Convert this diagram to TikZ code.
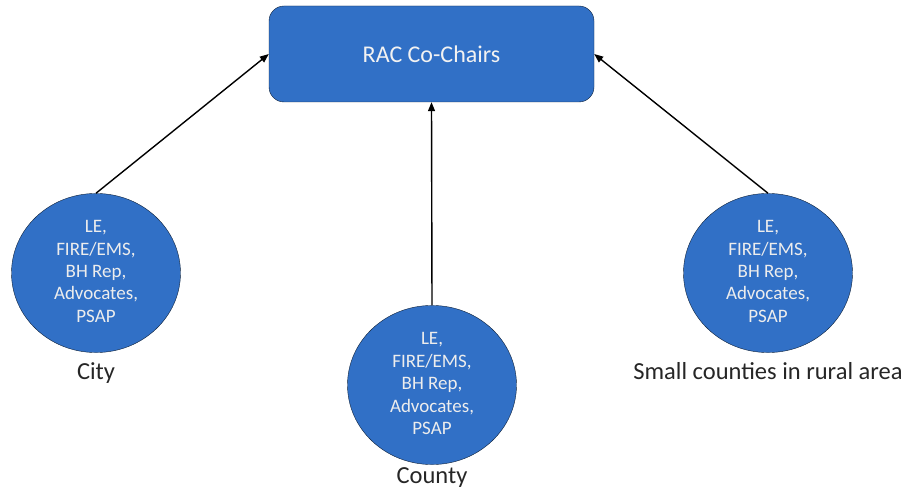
\documentclass[tikz,border=0pt]{standalone}
\usepackage{fontspec}
\setmainfont{Carlito}
\usepackage{tikz}
\usepackage{xcolor}
\usetikzlibrary{arrows.meta,positioning,shapes.geometric}
\definecolor{racblue}{HTML}{3170C6}

\begin{document}
\begin{tikzpicture}[x=1pt,y=-1pt,
    chairbox/.style={draw=black!70!racblue, fill=racblue, rounded corners=15pt,
        minimum width=325pt, minimum height=96pt, text=white!95!black,
        font=\fontsize{24}{28}\selectfont},
    group/.style={draw=black!70!racblue, fill=racblue, ellipse, inner sep=0pt,
        minimum width=169pt, minimum height=158pt, text=white!93!black,
        align=center, font=\fontsize{19}{22.5}\selectfont},
    caption/.style={font=\fontsize{24.5}{28}\selectfont, text=black!85},
    link/.style={-{Triangle[length=9pt,width=7pt]}, line width=1.4pt}]
    \useasboundingbox (0,0) rectangle (903,492);
    \node[chairbox] (chairs) at (431.5,54) {RAC Co-Chairs};
    \foreach \nm/\x/\y/\gap/\lab in {city/96/273/6/City, county/432/385/-1/County, rural/768/273/6/Small counties in rural area}
    {
        \node[group] (\nm) at (\x,\y) {\raisebox{3pt}{\begin{tabular}{@{}c@{}}LE,\\FIRE/EMS,\\BH Rep,\\Advocates,\\PSAP\end{tabular}}};
        \node[caption, below=\gap pt of \nm] (\nm lab) {\lab};
    }
    \draw[link] (city.north) -- (chairs.west);
    \draw[link] (county.north) -- (chairs.south);
    \draw[link] (rural.north) -- (chairs.east);
\end{tikzpicture}
\end{document}
